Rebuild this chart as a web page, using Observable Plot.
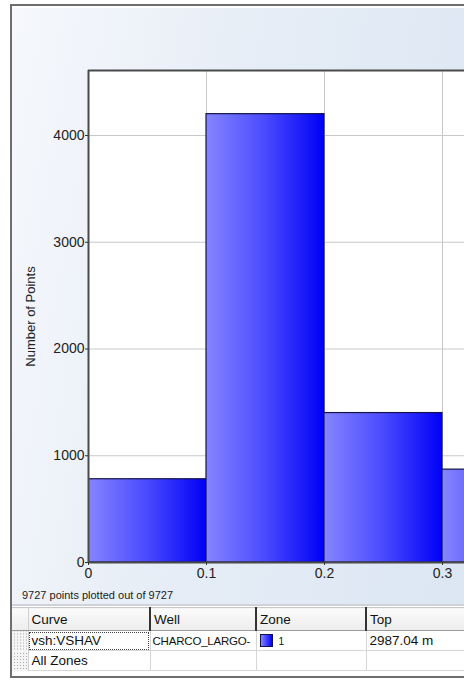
<!DOCTYPE html>
<html><head><meta charset="utf-8">
<script src="https://cdn.jsdelivr.net/npm/d3@7"></script>
<script src="https://cdn.jsdelivr.net/npm/@observablehq/plot@0.6"></script>
<style>
body{margin:0;background:#fff;font-family:"Liberation Sans",Arial,sans-serif;}
#wrap{position:relative;width:464px;height:682px;overflow:hidden;background:#fff}
#panel{position:absolute;left:10px;top:4px;width:470px;height:670px;border:2px solid #6e6e6e;border-right:none;background:#fff;box-sizing:content-box}
#plotbg{position:absolute;left:12px;top:7px;width:460px;height:597px;border-top:1px solid #fff;background:linear-gradient(100deg,#f6f8fc 0%,#e6edf6 45%,#dbe6f3 100%)}
#chart{position:absolute;left:0;top:0}
#caption{position:absolute;left:22px;top:589px;font-size:11px;color:#1a1a1a;white-space:nowrap}
#sep{position:absolute;left:12px;top:604px;width:460px;height:2px;background:#cfd3d8}
#grid{position:absolute;left:12px;top:607px;width:494px;border-collapse:collapse;table-layout:fixed;font-size:13.5px;color:#111}
#grid td{height:19px;padding:0 0 0 3px;border:1px solid #d6d6d6;white-space:nowrap;overflow:hidden;vertical-align:middle}
#grid tr.hd td{height:22px;background:linear-gradient(#fbfbfb,#ececec);border-bottom:1px solid #9a9a9a;border-top:1px solid #c8c8c8}
#grid tr.hd td.c{border-left:2px solid #333}
#grid td.grip{padding:0;border:none;border-right:1px solid #d0d0d0;background-color:#f4f4f4;background-image:radial-gradient(#aaa 0.7px,transparent 0.9px);background-size:3px 3px;background-position:4px 1px}
#grid td.focus{outline:1px dotted #444;outline-offset:-2px}
#grid td.narrow{font-size:11.5px;letter-spacing:-0.2px;padding-left:2px}
.sw{display:inline-block;width:11px;height:11px;border:1px solid #101050;background:linear-gradient(90deg,#8484ff,#0000ff);vertical-align:-2px;margin-right:6px}
.zn{font-size:10px}
</style></head>
<body>
<div id="wrap">
  <div id="panel"></div>
  <div id="plotbg"></div>
  <div id="chart"></div>
  <div id="caption"></div>
  <div id="sep"></div>
  <table id="grid"></table>
</div>
<script>
// ---- data ----
const binStart = [0, 0.1, 0.2, 0.3];
const binEnd   = [0.1, 0.2, 0.3, 0.4];
const counts   = [780, 4200, 1400, 870];
const xTicks   = [0, 0.1, 0.2, 0.3];
const yTicks   = [0, 1000, 2000, 3000, 4000];
const yLabel   = "Number of Points";
const pointsPlotted = 9727;
const pointsTotal   = 9727;
const tableHeaders  = ["Curve", "Well", "Zone", "Top"];
const tableRow1     = ["vsh:VSHAV", "CHARCO_LARGO-", "1", "2987.04 m"];
const tableRow2     = ["All Zones", "", "", ""];

const bins = counts.map((c, i) => ({x1: binStart[i], x2: binEnd[i], y: c}));
const xMax = 0.31864, yMax = 4609;

const plot = Plot.plot({
  width: 464, height: 600,
  marginLeft: 88, marginTop: 70, marginBottom: 38, marginRight: 0,
  style: {background: "transparent", fontFamily: "'Liberation Sans', Arial, sans-serif", fontSize: "14px", color: "#222", overflow: "visible"},
  x: {domain: [0, xMax], label: null},
  y: {domain: [0, yMax], label: null},
  marks: [
    Plot.frame({fill: "#fff", stroke: "none"}),
    Plot.gridX(xTicks, {stroke: "#c8c8c8", strokeOpacity: 1}),
    Plot.gridY(yTicks.slice(1), {stroke: "#c8c8c8", strokeOpacity: 1}),
    Plot.rectY(bins, {x1: "x1", x2: "x2", y: "y", fill: "url(#barGrad)", stroke: "#14144a", strokeWidth: 1.2, clip: true}),
    Plot.ruleX([0], {stroke: "#4a4a4a", strokeWidth: 2}),
    Plot.ruleY([0, yMax], {stroke: "#4a4a4a", strokeWidth: 2}),
    Plot.axisX(xTicks, {tickSize: 3, tickPadding: 3, tickFormat: d => String(d), label: null, stroke: "#333"}),
    Plot.axisY(yTicks, {tickSize: 3, tickPadding: 1, tickFormat: d => String(d), label: null, stroke: "#333"}),
    Plot.text([yLabel], {frameAnchor: "left", textAnchor: "middle", dx: -58, rotate: -90, fontSize: 13, fill: "#222"})
  ]
});
d3.select(plot).insert("defs", ":first-child").html(
  '<linearGradient id="barGrad" x1="0" x2="1" y1="0" y2="0">' +
  '<stop offset="0" stop-color="#8585ff"/><stop offset="0.5" stop-color="#4a4aff"/><stop offset="1" stop-color="#0000f6"/></linearGradient>');
document.getElementById("chart").appendChild(plot);

document.getElementById("caption").textContent = `${pointsPlotted} points plotted out of ${pointsTotal}`;

// ---- table ----
const colW = [16, 122, 106, 110, 140];
const tbl = d3.select("#grid");
const cg = tbl.append("colgroup");
colW.forEach(w => cg.append("col").style("width", w + "px"));
const hd = tbl.append("tr").attr("class", "hd");
hd.append("td").attr("class", "grip");
tableHeaders.forEach((h, i) => hd.append("td").attr("class", i > 0 ? "c" : null).text(h));
const r1 = tbl.append("tr");
r1.append("td").attr("class", "grip");
tableRow1.forEach((v, i) => {
  const td = r1.append("td");
  if (i === 0) td.attr("class", "focus");
  if (i === 1) td.attr("class", "narrow");
  if (i === 2) { td.append("span").attr("class", "sw"); td.append("span").attr("class", "zn").text(v); }
  else td.text(v);
});
const r2 = tbl.append("tr");
r2.append("td").attr("class", "grip");
tableRow2.forEach(v => r2.append("td").text(v));
</script>
</body></html>
